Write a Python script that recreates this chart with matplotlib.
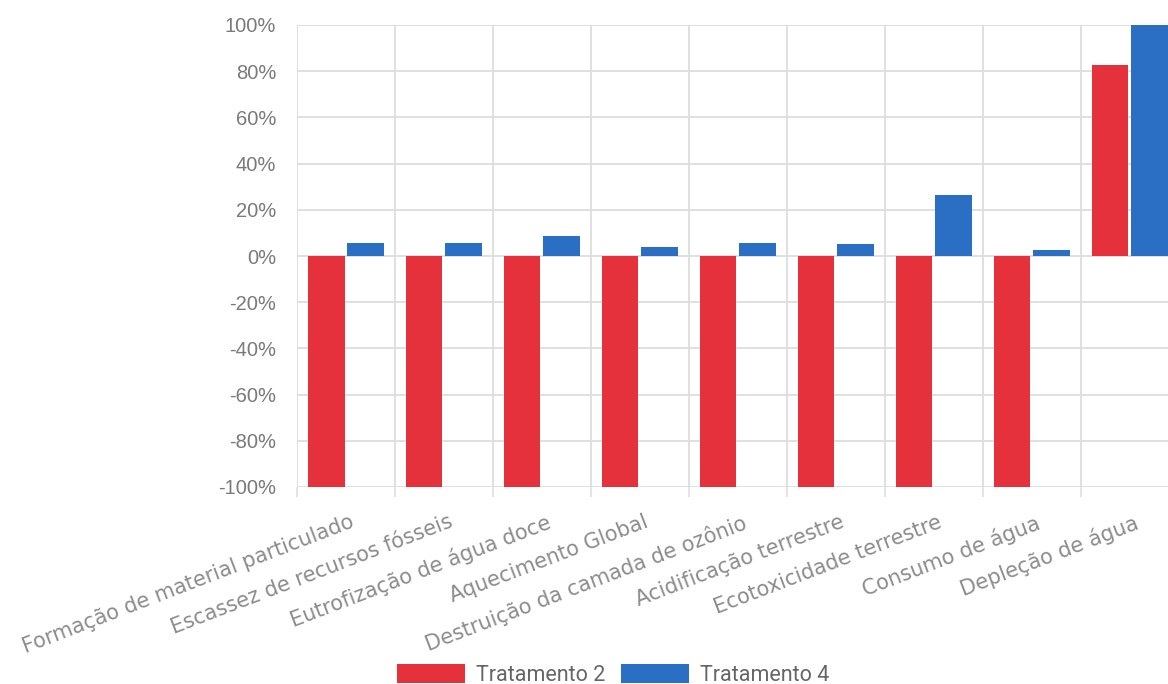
import numpy as np
import matplotlib
matplotlib.use("Agg")
import matplotlib.pyplot as plt
import matplotlib.transforms as mtransforms
from matplotlib.ticker import FixedLocator, FuncFormatter

plt.rcParams['font.family'] = ['Liberation Sans', 'DejaVu Sans']

categories = [
    "Formação de material particulado",
    "Escassez de recursos fósseis",
    "Eutrofização de água doce",
    "Aquecimento Global",
    "Destruição da camada de ozônio",
    "Acidificação terrestre",
    "Ecotoxicidade terrestre",
    "Consumo de água",
    "Depleção de água",
]
tratamento_2 = [-100, -100, -100, -100, -100, -100, -100, -100, 82.6]
tratamento_4 = [5.8, 5.8, 8.7, 4.0, 5.5, 5.2, 26.4, 2.5, 100]
series_names = ["Tratamento 2", "Tratamento 4"]

red = "#e5313b"
blue = "#2b6fc5"
grid_c = "#dddddd"
text_c = "#7a7a7a"

fig = plt.figure(figsize=(11.68, 6.84), dpi=100)
ax = fig.add_axes([297/1168, 197/684, 1 - 297/1168, 462/684])

x = np.arange(len(categories))
w = 0.37
ax.bar(x - 0.2, tratamento_2, width=w, color=red, label=series_names[0], zorder=3)
ax.bar(x + 0.2, tratamento_4, width=w, color=blue, label=series_names[1], zorder=3)

ax.set_xlim(-0.5, 8.39)
ax.set_ylim(-100, 100)
ax.set_yticks(np.arange(-100, 101, 20))
ax.yaxis.set_major_formatter(FuncFormatter(lambda v, p: "%d%%" % v))
ax.tick_params(axis='y', length=0, pad=15, labelsize=14.5, labelcolor=text_c)
ax.grid(axis='y', color=grid_c, linewidth=1.3, zorder=0)

# category boundaries: vertical grid + small tick marks below the plot
ax.xaxis.set_minor_locator(FixedLocator(np.arange(-0.5, 8, 1.0)))
ax.grid(axis='x', which='minor', color=grid_c, linewidth=1.3, zorder=0)
ax.tick_params(axis='x', which='minor', length=7.5, width=1.1, color=grid_c, direction='out')

ax.set_xticks(x)
ax.set_xticklabels(categories, rotation=21, ha='right', rotation_mode='anchor',
                   fontsize=15, color="#8c8c8c", family='DejaVu Sans')
ax.tick_params(axis='x', which='major', length=0, pad=18)
offset = mtransforms.ScaledTranslation(4/100, 0, fig.dpi_scale_trans)
for lbl in ax.get_xticklabels():
    lbl.set_transform(lbl.get_transform() + offset)

for s in ax.spines.values():
    s.set_visible(False)

leg = fig.legend(loc='center', bbox_to_anchor=(613/1168, 1 - 675/684), ncol=2,
                 frameon=False, prop={'family': 'Roboto', 'size': 15.5},
                 borderpad=0, handlelength=3.2, handleheight=1.0,
                 handletextpad=0.5, columnspacing=0.7)
for t in leg.get_texts():
    t.set_color("#666666")

fig.savefig("out.png", dpi=100)
